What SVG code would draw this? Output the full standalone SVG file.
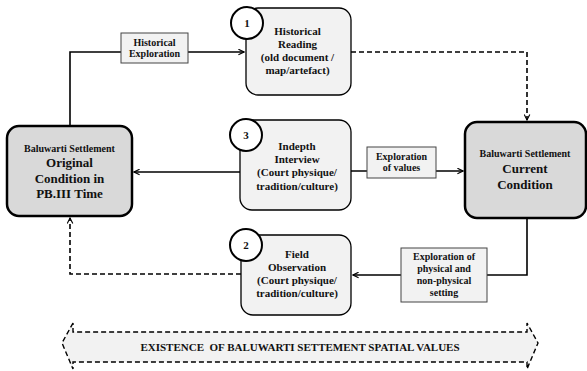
<svg xmlns="http://www.w3.org/2000/svg" width="587" height="371" viewBox="0 0 587 371">
<style>
text{font-family:'Liberation Serif','Times New Roman',serif;font-weight:bold;fill:#111;text-anchor:middle}
.main{fill:#d9d9d9;stroke:#000;stroke-width:2.5}
.step{fill:#f2f2f2;stroke:#000;stroke-width:1.3}
.num{fill:#fff;stroke:#000;stroke-width:2}
.lab{fill:#f2f2f2;stroke:#444;stroke-width:1}
.c{fill:none;stroke:#000;stroke-width:1.6}
.d{stroke-dasharray:5 3}
.t11{font-size:11px}
.t10{font-size:10px}
.t13{font-size:13px}
</style>
<defs>
<marker id="ah" viewBox="0 0 10 10" refX="9" refY="5" markerWidth="7" markerHeight="7" orient="auto" markerUnits="userSpaceOnUse">
<path d="M1,1 L9,5 L1,9" fill="none" stroke="#000" stroke-width="1.6"/>
</marker>
</defs>
<g id="connectors">
<polyline class="c" points="70,126 70,52 244,52" marker-end="url(#ah)"/>
<polyline class="c d" points="351,52 527,52 527,120" marker-end="url(#ah)"/>
<line class="c" x1="240" y1="172" x2="134" y2="172" marker-end="url(#ah)"/>
<line class="c" x1="351" y1="171" x2="463" y2="171" marker-end="url(#ah)"/>
<polyline class="c" points="527,218 527,275 353,275" marker-end="url(#ah)"/>
<polyline class="c d" points="241,274 70,274 70,218" marker-end="url(#ah)"/>
</g>
<g id="label-historical-exploration">
<rect class="lab" x="121" y="33" width="67" height="30"/>
<text class="t10" x="154.5" y="46">Historical</text>
<text class="t10" x="154.5" y="57">Exploration</text>
</g>
<g id="label-exploration-values">
<rect class="lab" x="367" y="147" width="69" height="31"/>
<text class="t10" x="401.5" y="160">Exploration</text>
<text class="t10" x="401.5" y="171">of values</text>
</g>
<g id="label-exploration-physical">
<rect class="lab" x="401" y="248" width="86" height="54"/>
<text class="t10" x="444" y="260">Exploration of</text>
<text class="t10" x="444" y="272">physical and</text>
<text class="t10" x="444" y="284">non-physical</text>
<text class="t10" x="444" y="296">setting</text>
</g>
<g id="node-original">
<rect class="main" x="7" y="126" width="125" height="90" rx="12"/>
<text class="t10" x="69.5" y="151.5">Baluwarti Settlement</text>
<text class="t13" x="69.5" y="167">Original</text>
<text class="t13" x="69.5" y="183">Condition in</text>
<text class="t13" x="69.5" y="198">PB.III Time</text>
</g>
<g id="node-current">
<rect class="main" x="465" y="122" width="121" height="96" rx="12"/>
<text class="t10" x="525" y="156.5">Baluwarti Settlement</text>
<text class="t13" x="525" y="173">Current</text>
<text class="t13" x="525" y="188.5">Condition</text>
</g>
<g id="node-historical-reading">
<rect class="step" x="246" y="8" width="105" height="87" rx="12"/>
<circle class="num" cx="247" cy="23" r="16"/>
<text class="t11" x="247" y="27">1</text>
<text class="t11" x="297.5" y="35">Historical</text>
<text class="t11" x="297.5" y="48">Reading</text>
<text class="t11" x="297.5" y="61">(old document /</text>
<text class="t11" x="297.5" y="74">map/artefact)</text>
</g>
<g id="node-indepth-interview">
<rect class="step" x="240" y="120" width="111" height="90" rx="12"/>
<circle class="num" cx="246" cy="135" r="16"/>
<text class="t11" x="246" y="139">3</text>
<text class="t11" x="297" y="150">Indepth</text>
<text class="t11" x="297" y="163">Interview</text>
<text class="t11" x="297" y="176">(Court physique/</text>
<text class="t11" x="297" y="190">tradition/culture)</text>
</g>
<g id="node-field-observation">
<rect class="step" x="241" y="235" width="110" height="80" rx="12"/>
<circle class="num" cx="246" cy="245" r="16"/>
<text class="t11" x="246" y="249">2</text>
<text class="t11" x="297" y="258">Field</text>
<text class="t11" x="297" y="271">Observation</text>
<text class="t11" x="297" y="284">(Court physique/</text>
<text class="t11" x="297" y="297">tradition/culture)</text>
</g>
<g id="existence-arrow">
<path d="M73,323 L62,343 L73,369 L73,362 L527,362 L527,369 L538,343 L527,323 L527,332 L73,332 Z" fill="#f2f2f2" stroke="#000" stroke-width="1.4" stroke-dasharray="5 3"/>
<text class="t11" x="300" y="351" xml:space="preserve">EXISTENCE  OF BALUWARTI SETTEMENT SPATIAL VALUES</text>
</g>
</svg>
